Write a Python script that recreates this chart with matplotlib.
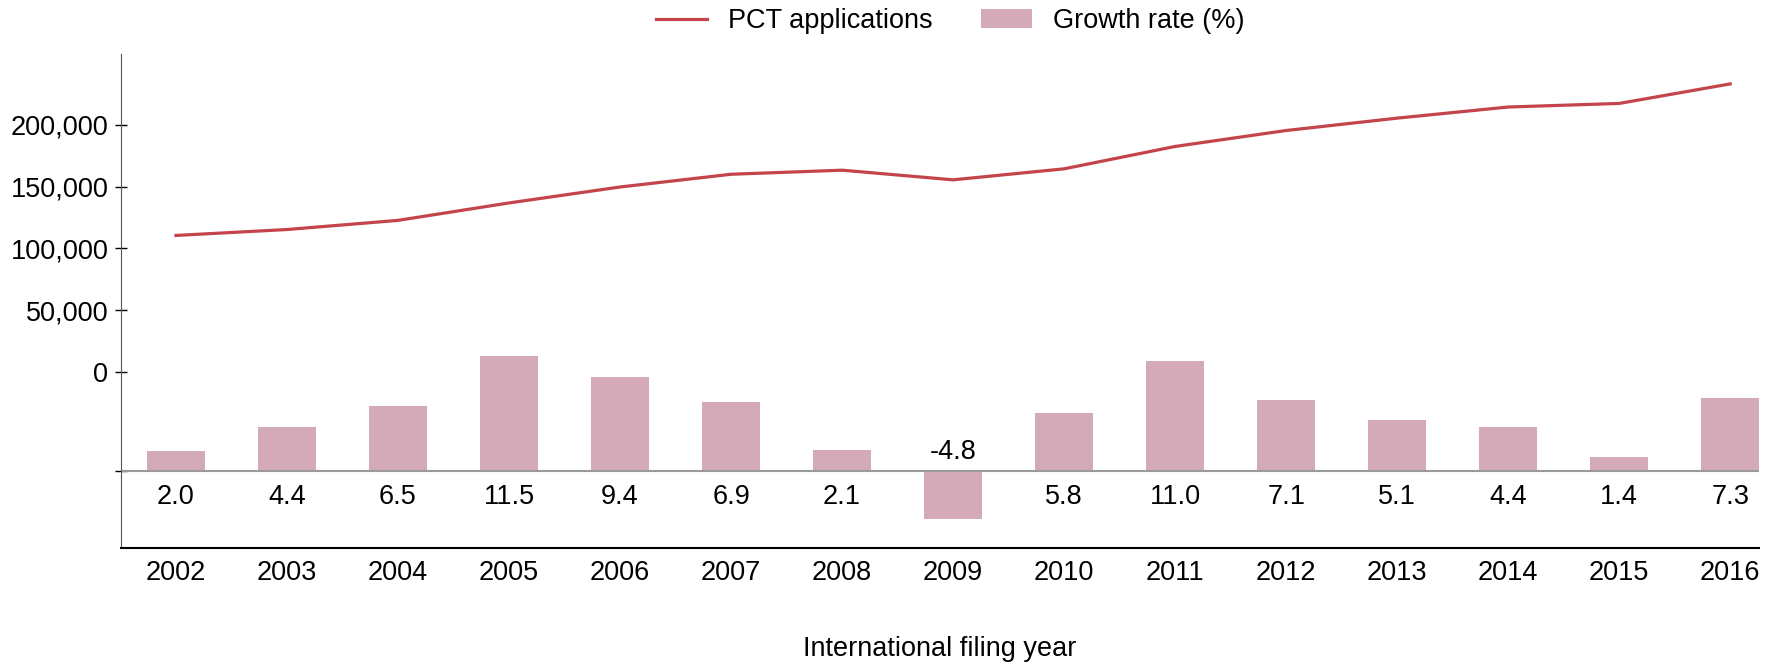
import matplotlib
matplotlib.use('Agg')
import matplotlib.pyplot as plt
from matplotlib.lines import Line2D
from matplotlib.patches import Patch
import numpy as np

plt.rcParams['font.family'] = ['Liberation Sans', 'DejaVu Sans']

# Data
years = ['2002', '2003', '2004', '2005', '2006', '2007', '2008', '2009',
         '2010', '2011', '2012', '2013', '2014', '2015', '2016']
pct_applications = [110400, 115200, 122600, 136700, 149600, 159900, 163200, 155400,
                    164300, 182400, 195300, 205300, 214300, 217200, 233000]
growth_rate = [2.0, 4.4, 6.5, 11.5, 9.4, 6.9, 2.1, -4.8,
               5.8, 11.0, 7.1, 5.1, 4.4, 1.4, 7.3]

line_color = '#C4444B'
bar_color = '#D4A9B8'
fs = 19.5

x = np.arange(len(years))

fig = plt.figure(figsize=(17.79, 6.65), dpi=100)
ax = fig.add_axes([0.068, 0.176, 0.9208, 0.743])
ax2 = ax.twinx()

# bars on the twin axis, drawn below the line
ax2.set_zorder(1)
ax.set_zorder(2)
ax.patch.set_visible(False)

ax2.bar(x, growth_rate, width=0.52, color=bar_color, zorder=2)
ax2.axhline(0, color='#9a9a9a', lw=1.5, zorder=3)
ax2.set_ylim(-7.7, 41.7)
for xi, v in zip(x, growth_rate):
    if v >= 0:
        ax2.annotate(f'{v:.1f}', (xi, 0), xytext=(0, -18.5), textcoords='offset points',
                     ha='center', va='center', fontsize=fs)
    else:
        ax2.annotate(f'{v:.1f}', (xi, 0), xytext=(0, 14), textcoords='offset points',
                     ha='center', va='center', fontsize=fs)

# line on the main axis
ax.plot(x, pct_applications, color=line_color, lw=2.3)
ax.set_ylim(-142400, 257300)
ax.set_yticks([0, 50000, 100000, 150000, 200000])
ax.set_yticklabels(['0', '50,000', '100,000', '150,000', '200,000'])
ax.set_xlim(-0.495, 14.26)
ax.set_xticks(x)
ax.set_xticklabels(years)
ax.tick_params(axis='y', labelsize=fs, length=8, width=1, direction='inout', pad=5)
ax.tick_params(axis='x', labelsize=fs, length=0, pad=9)
ax.set_xlabel('International filing year', fontsize=fs, labelpad=36)

# unlabeled tick at the bar baseline on the left spine
ax2.yaxis.tick_left()
ax2.set_yticks([0])
ax2.set_yticklabels([''])
ax2.tick_params(axis='y', length=8, width=1, direction='inout')

for a in (ax, ax2):
    a.spines['top'].set_visible(False)
    a.spines['right'].set_visible(False)
ax2.spines['left'].set_visible(False)
ax2.spines['bottom'].set_visible(False)
ax.spines['left'].set_color('#555555')
ax.spines['bottom'].set_color('black')
ax.spines['bottom'].set_linewidth(1.5)

handles = [Line2D([0], [0], color=line_color, lw=2.3),
           Patch(facecolor=bar_color)]
fig.legend(handles, ['PCT applications', 'Growth rate (%)'], loc='center',
           bbox_to_anchor=(0.534, 0.968), ncol=2, frameon=False, fontsize=fs,
           handlelength=1.9, columnspacing=1.8, handletextpad=0.75)

fig.savefig('out.png', dpi=100)
